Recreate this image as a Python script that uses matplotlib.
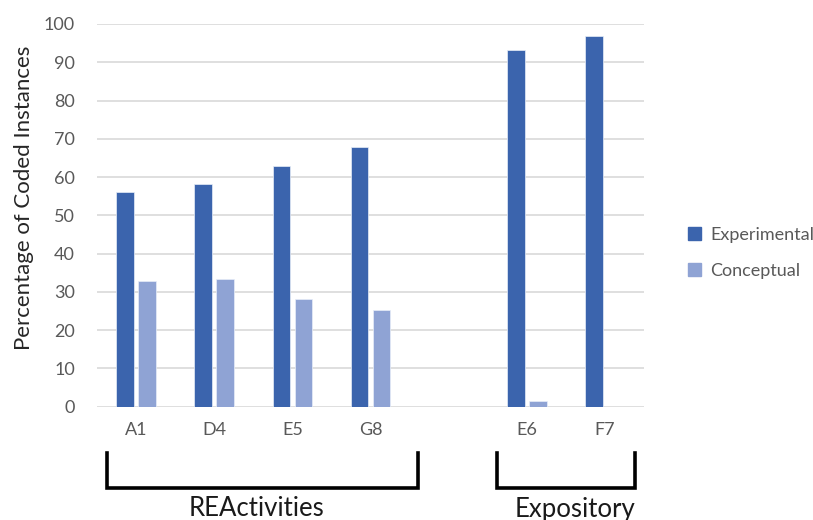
import matplotlib
matplotlib.use("Agg")
import matplotlib.pyplot as plt
import numpy as np
from matplotlib.lines import Line2D

plt.rcParams['font.family'] = ['Lato', 'DejaVu Sans']

categories = ["A1", "D4", "E5", "G8", "", "E6", "F7"]
experimental = [56.2, 58.1, 62.8, 67.9, np.nan, 93.1, 96.9]
conceptual = [32.8, 33.3, 28.1, 25.3, np.nan, 1.6, 0.0]
series_names = ["Experimental", "Conceptual"]
groups = [("REActivities", 0, 3), ("Expository", 5, 6)]

c_exp = "#3B64AD"
c_con = "#8FA3D4"

W, H = 813, 520
fig = plt.figure(figsize=(W / 100, H / 100), dpi=100)
ax = fig.add_axes([97 / W, 1 - 406.7 / H, (644 - 97) / W, (406.7 - 24) / H])

x = np.arange(len(categories))
bw = 0.225
off = 0.14
ax.bar(x - off, experimental, bw, color=c_exp, edgecolor="#E8EEF8", linewidth=0.5,
       label=series_names[0], zorder=3)
ax.bar(x + off, conceptual, bw, color=c_con, edgecolor="#E8EEF8", linewidth=0.5,
       label=series_names[1], zorder=3)

ax.set_xlim(-0.5, len(categories) - 0.5)
ax.set_ylim(0, 100)
ax.set_yticks(np.arange(0, 101, 10))
ax.set_xticks(x)
ax.set_xticklabels(categories)
ax.grid(axis="y", color="#D9D9D9", linewidth=1.2, zorder=0)
ax.set_axisbelow(True)
for s in ax.spines.values():
    s.set_visible(False)
ax.tick_params(axis="both", length=0, labelsize=13, colors="#595959")
ax.tick_params(axis="y", pad=16)
ax.tick_params(axis="x", pad=11)
ax.set_ylabel("Percentage of Coded Instances", fontsize=16, color="#262626")
ax.yaxis.set_label_coords(-0.115, 0.545)

# legend
leg = fig.legend(
    handles=[plt.Rectangle((0, 0), 1, 1, color=c_exp), plt.Rectangle((0, 0), 1, 1, color=c_con)],
    labels=series_names, loc="center left", bbox_to_anchor=(672 / W, 1 - 253 / H),
    frameon=False, fontsize=13, handlelength=0.7, handleheight=0.7,
    handletextpad=0.5, labelspacing=1.1, labelcolor="#595959")

# group brackets below the category labels
def fx(px):
    return px / W

def fy(py):
    return 1 - py / H

brackets = [(106.7, 418.0), (496.7, 635.0)]
label_x = [256, 575]
for (name, i0, i1), (xl, xr), lx in zip(groups, brackets, label_x):
    fig.add_artist(Line2D([fx(xl), fx(xl), fx(xr), fx(xr)],
                          [fy(453), fy(487.5), fy(487.5), fy(453)],
                          color="black", linewidth=2.6, solid_joinstyle="miter",
                          transform=fig.transFigure))
    fig.text(fx(lx), fy(509), name, ha="center", va="center", fontsize=18.5, color="#1A1A1A")

fig.savefig("out.png", dpi=100, facecolor="white")
